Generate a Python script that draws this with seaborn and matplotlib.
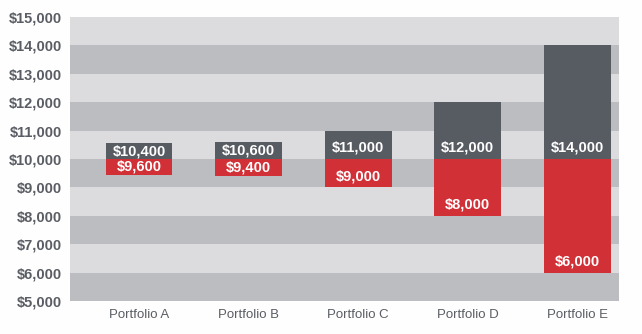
import numpy as np
import pandas as pd
import matplotlib
matplotlib.use("Agg")
import matplotlib.pyplot as plt
import seaborn as sns

categories = ["Portfolio A", "Portfolio B", "Portfolio C", "Portfolio D", "Portfolio E"]
high_values = [10400, 10600, 11000, 12000, 14000]
low_values = [9600, 9400, 9000, 8000, 6000]
baseline = 10000
y_ticks = list(range(5000, 15001, 1000))

sns.set_theme(style="white")
plt.rcParams["font.family"] = ["Liberation Sans", "DejaVu Sans"]

DARK = "#575b62"
RED = "#d23037"
BAND_DARK = "#bcbdc0"
BAND_LIGHT = "#dcdcde"
TXT = "#5a5d63"
BAR_W = 0.61
PLATE = 560  # minimum height of a label plate, in data units

fig = plt.figure(figsize=(6.42, 3.34), dpi=100, facecolor="#fefefe")
ax = fig.add_axes([0.109, 0.099, 0.855, 0.850])
ax.set_facecolor(BAND_LIGHT)

for i, lo in enumerate(y_ticks[:-1]):
    ax.axhspan(lo, lo + 1000, color=BAND_DARK if i % 2 == 0 else BAND_LIGHT, lw=0, zorder=0)

df = pd.DataFrame({"cat": categories,
                   "up": np.array(high_values) - baseline,
                   "down": np.array(low_values) - baseline})

sns.barplot(data=df, x="cat", y="up", bottom=baseline, color=DARK, width=BAR_W,
            saturation=1, ax=ax, zorder=2, linewidth=0)
sns.barplot(data=df, x="cat", y="down", bottom=baseline, color=RED, width=BAR_W,
            saturation=1, ax=ax, zorder=2, linewidth=0)

for i, (h, l) in enumerate(zip(high_values, low_values)):
    up = h - baseline
    dn = baseline - l
    # label plates where the bar is too short to hold its label
    if up < PLATE:
        ax.bar(i, PLATE, bottom=baseline, width=BAR_W, color=DARK, lw=0, zorder=2)
    if dn < PLATE:
        ax.bar(i, -PLATE, bottom=baseline, width=BAR_W, color=RED, lw=0, zorder=2)
    box_up = max(up, PLATE)
    box_dn = max(dn, PLATE)
    yu = baseline + min(400, box_up / 2)
    yd = (l + 390) if dn >= 800 else baseline - box_dn / 2
    ax.text(i, yu, f"${h:,}", ha="center", va="center", color="white",
            fontsize=10.5, fontweight="bold", zorder=3)
    ax.text(i, yd, f"${l:,}", ha="center", va="center", color="white",
            fontsize=10.5, fontweight="bold", zorder=3)

ax.set_xlim(-0.63, 4.38)
ax.set_ylim(5000, 15000)
ax.set_yticks(y_ticks)
ax.set_yticklabels([f"${v:,}" for v in y_ticks], fontsize=10.5, fontweight="bold", color=TXT)
ax.tick_params(axis="y", length=0, pad=6)
ax.tick_params(axis="x", length=0, pad=6, labelsize=9.5, labelcolor=TXT)
ax.set_xlabel("")
ax.set_ylabel("")
for s in ax.spines.values():
    s.set_visible(False)

fig.savefig("out.png", dpi=100, facecolor=fig.get_facecolor())
